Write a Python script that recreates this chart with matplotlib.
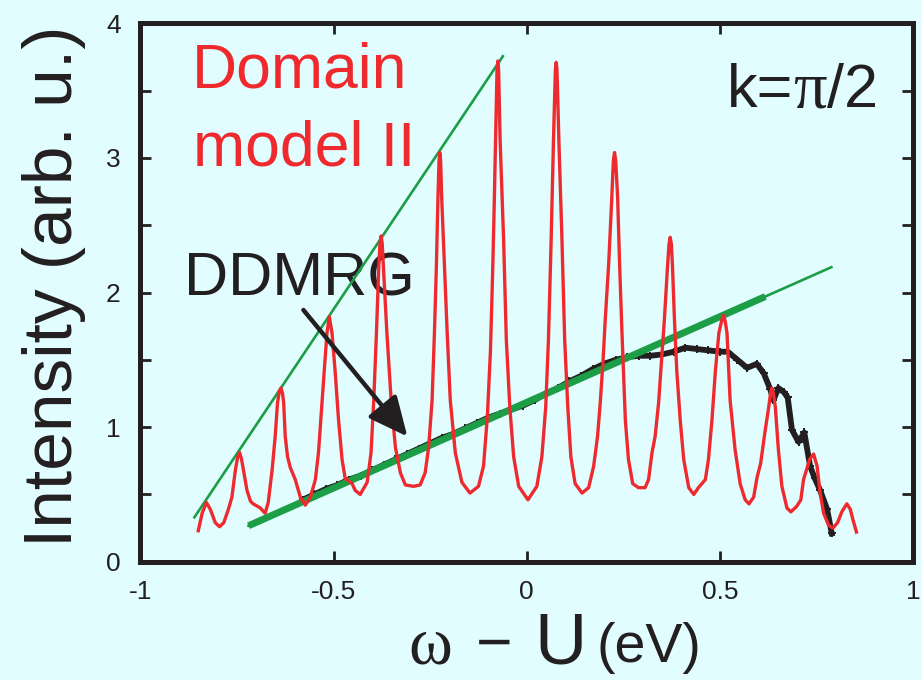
import matplotlib
matplotlib.use("Agg")
import matplotlib.pyplot as plt
from matplotlib.ticker import MultipleLocator

plt.rcParams["font.family"] = ["Liberation Sans", "DejaVu Sans"]
plt.rcParams["axes.unicode_minus"] = False

# ---------------- data ----------------
# Domain model II spectrum (omega - U in eV, intensity in arb. u.)
domain_x = [
    -0.850, -0.840, -0.829, -0.819, -0.806, -0.795, -0.784, -0.772, -0.763, -0.754,
    -0.748, -0.743, -0.738, -0.733, -0.724, -0.715, -0.708, -0.702, -0.690, -0.677,
    -0.669, -0.659, -0.651, -0.645, -0.640, -0.636, -0.632, -0.629, -0.625, -0.619,
    -0.612, -0.599, -0.586, -0.573, -0.560, -0.547, -0.539, -0.530, -0.524, -0.517,
    -0.511, -0.504, -0.496, -0.487, -0.478, -0.470, -0.461, -0.452, -0.444, -0.431,
    -0.413, -0.403, -0.396, -0.389, -0.383, -0.380, -0.377, -0.374, -0.371, -0.362,
    -0.351, -0.340, -0.327, -0.314, -0.293, -0.276, -0.263, -0.254, -0.245, -0.239,
    -0.234, -0.230, -0.227, -0.225, -0.223, -0.220, -0.213, -0.206, -0.198, -0.185,
    -0.168, -0.147, -0.125, -0.112, -0.102, -0.094, -0.088, -0.084, -0.080, -0.077,
    -0.075, -0.073, -0.069, -0.060, -0.053, -0.044, -0.034, -0.021, 0.003, 0.026,
    0.039, 0.049, 0.056, 0.063, 0.069, 0.074, 0.076, 0.078, 0.083, 0.091,
    0.098, 0.106, 0.114, 0.125, 0.143, 0.160, 0.173, 0.183, 0.190, 0.197,
    0.203, 0.212, 0.220, 0.224, 0.227, 0.230, 0.235, 0.240, 0.246, 0.255,
    0.263, 0.274, 0.289, 0.306, 0.315, 0.324, 0.332, 0.341, 0.350, 0.356,
    0.364, 0.368, 0.371, 0.374, 0.377, 0.382, 0.388, 0.397, 0.406, 0.419,
    0.432, 0.444, 0.453, 0.462, 0.470, 0.479, 0.488, 0.497, 0.505, 0.509,
    0.513, 0.518, 0.526, 0.539, 0.552, 0.565, 0.575, 0.587, 0.596, 0.605,
    0.616, 0.626, 0.631, 0.634, 0.638, 0.643, 0.651, 0.660, 0.673, 0.683,
    0.698, 0.709, 0.716, 0.732, 0.742, 0.751, 0.759, 0.768, 0.781, 0.792,
    0.804, 0.815, 0.828, 0.837, 0.844, 0.853,
]
domain_y = [
    0.23, 0.36, 0.44, 0.39, 0.29, 0.26, 0.29, 0.39, 0.48, 0.68,
    0.78, 0.81, 0.76, 0.68, 0.53, 0.45, 0.43, 0.42, 0.40, 0.36,
    0.44, 0.68, 0.93, 1.18, 1.27, 1.29, 1.25, 1.18, 0.93, 0.78,
    0.70, 0.61, 0.48, 0.42, 0.48, 0.61, 0.81, 1.18, 1.42, 1.70,
    1.82, 1.70, 1.42, 1.05, 0.76, 0.62, 0.60, 0.58, 0.53, 0.50,
    0.59, 0.81, 1.20, 1.70, 2.19, 2.36, 2.42, 2.36, 2.19, 1.70,
    1.20, 0.85, 0.66, 0.57, 0.56, 0.57, 0.66, 0.85, 1.20, 1.70,
    2.19, 2.69, 2.98, 3.04, 2.98, 2.69, 2.19, 1.70, 1.20, 0.81,
    0.59, 0.51, 0.56, 0.71, 1.08, 1.57, 2.19, 2.69, 3.25, 3.66,
    3.72, 3.66, 3.13, 2.39, 1.65, 1.15, 0.78, 0.56, 0.46, 0.56,
    0.78, 1.15, 1.65, 2.39, 3.13, 3.66, 3.71, 3.66, 3.13, 2.39,
    1.65, 1.15, 0.78, 0.58, 0.51, 0.55, 0.71, 0.93, 1.18, 1.48,
    1.80, 2.22, 2.71, 2.98, 3.04, 2.98, 2.71, 2.22, 1.72, 1.05,
    0.76, 0.58, 0.55, 0.55, 0.61, 0.81, 0.93, 1.18, 1.55, 1.80,
    2.19, 2.36, 2.41, 2.36, 2.19, 1.80, 1.42, 1.05, 0.76, 0.55,
    0.50, 0.55, 0.58, 0.61, 0.76, 1.05, 1.42, 1.70, 1.80, 1.83,
    1.79, 1.70, 1.20, 0.83, 0.58, 0.46, 0.43, 0.48, 0.63, 0.73,
    0.96, 1.15, 1.26, 1.29, 1.25, 1.15, 0.83, 0.56, 0.40, 0.37,
    0.41, 0.46, 0.61, 0.76, 0.80, 0.71, 0.51, 0.36, 0.27, 0.25,
    0.29, 0.37, 0.43, 0.39, 0.31, 0.22,
]

# DDMRG spectrum
ddmrg_x = [
    -0.58, -0.55, -0.52, -0.49, -0.46, -0.43, -0.40, -0.37, -0.34, -0.31,
    -0.28, -0.25, -0.22, -0.19, -0.16, -0.13, -0.10, -0.07, -0.04, -0.01,
    0.02, 0.05, 0.08, 0.11, 0.14, 0.17, 0.20, 0.23, 0.26, 0.29,
    0.32, 0.35, 0.38, 0.41, 0.44, 0.47, 0.50, 0.52, 0.545, 0.57,
    0.595, 0.613, 0.630, 0.638, 0.651, 0.665, 0.675, 0.686, 0.703, 0.718,
    0.733, 0.745, 0.759, 0.777, 0.789,
]
ddmrg_y = [
    0.46, 0.50, 0.54, 0.57, 0.61, 0.64, 0.68, 0.72, 0.76, 0.80,
    0.84, 0.88, 0.92, 0.95, 0.99, 1.03, 1.07, 1.10, 1.13, 1.16,
    1.20, 1.25, 1.29, 1.34, 1.38, 1.43, 1.47, 1.50, 1.52, 1.53,
    1.53, 1.54, 1.56, 1.59, 1.58, 1.57, 1.56, 1.56, 1.50, 1.44,
    1.47, 1.40, 1.28, 1.20, 1.29, 1.26, 1.22, 0.98, 0.89, 0.96,
    0.71, 0.62, 0.53, 0.39, 0.21,
]

# guide lines: steep envelope of the domain peaks and linear DDMRG trend
envelope_x = [-0.860, -0.062]
envelope_y = [0.33, 3.755]
trend_x = [-0.720, 0.788]
trend_y = [0.267, 2.188]
trend_thick_x = [-0.720, 0.617]
trend_thick_y = [0.267, 1.970]

x_ticks = [-1, -0.5, 0, 0.5, 1]
x_tick_labels = ["-1", "-0.5", "0", "0.5", "1"]
y_ticks = [0, 1, 2, 3, 4]
y_tick_labels = ["0", "1", "2", "3", "4"]

# ---------------- style ----------------
BG = "#E1FDFF"
INK = "#231F20"
RED = "#EE2A2E"
GREEN = "#1B9E45"
SERIF = ["Liberation Serif", "DejaVu Serif"]

W, H = 922, 680
fig = plt.figure(figsize=(W / 100, H / 100), dpi=100, facecolor=BG)
ax = fig.add_axes([140.3 / W, 1 - 561.7 / H, (913.3 - 140.3) / W, (561.7 - 23.3) / H])
ax.set_facecolor(BG)

ax.plot(ddmrg_x, ddmrg_y, color=INK, lw=4.2, marker="+", ms=6, mew=1.4,
        solid_joinstyle="round", zorder=2)
ax.plot(trend_x, trend_y, color=GREEN, lw=1.9, zorder=3)
ax.plot(trend_thick_x, trend_thick_y, color=GREEN, lw=5.0, solid_capstyle="butt", zorder=3)
ax.plot(envelope_x, envelope_y, color=GREEN, lw=1.9, zorder=3)
ax.plot(domain_x, domain_y, color=RED, lw=2.4, solid_joinstyle="round", zorder=4)

ax.annotate("", xy=(-0.309, 0.93), xytext=(-0.578, 1.87),
            arrowprops=dict(arrowstyle="-|>,head_length=0.6,head_width=0.28",
                            mutation_scale=40, lw=3.2, color=INK,
                            shrinkA=0, shrinkB=0), zorder=5)

ax.set_xlim(-1, 1)
ax.set_ylim(0, 4)
ax.set_xticks(x_ticks)
ax.set_xticklabels(x_tick_labels)
ax.set_yticks(y_ticks)
ax.set_yticklabels(y_tick_labels)
ax.yaxis.set_minor_locator(MultipleLocator(0.5))
ax.tick_params(which="both", direction="in", top=True, right=True,
               length=8, width=2, color=INK)
ax.tick_params(axis="x", labelsize=19, pad=13, labelcolor=INK)
ax.tick_params(axis="y", labelsize=19, pad=14, labelcolor=INK)
for s in ax.spines.values():
    s.set_linewidth(3.6)
    s.set_color(INK)


def ftext(px, py, s, **kw):
    kw.setdefault("ha", "left")
    kw.setdefault("va", "baseline")
    kw.setdefault("color", INK)
    return ax.text(px / W, 1 - py / H, s, transform=fig.transFigure, **kw)


renderer = fig.canvas.get_renderer()


def run_text(px, py, pieces, **kw):
    """Lay out text pieces one after another on a shared baseline."""
    for s, extra in pieces:
        t = ftext(px, py, s, **{**kw, **extra})
        px = t.get_window_extent(renderer).x1
    return px


ftext(192, 88, "Domain", fontsize=45, color=RED, zorder=1.5)
ftext(193, 165, "model II", fontsize=45, color=RED, zorder=1.5)
run_text(727, 107, [("k=", {}), ("π", {"family": SERIF, "fontsize": 48}), ("/2", {})],
         fontsize=44, zorder=1.5)
ftext(184, 296, "DDMRG", fontsize=44, zorder=1.5)

# axis titles
ftext(72, 547, "Intensity (arb. u.)", fontsize=50, rotation=90, rotation_mode="anchor")
ftext(408, 663, "ω", fontsize=48, family=SERIF)
ftext(476, 663, "−", fontsize=45)
ftext(534, 664, "U", fontsize=52)
ftext(596, 662, "(eV)", fontsize=40)

fig.savefig("out.png", dpi=100, facecolor=BG)
